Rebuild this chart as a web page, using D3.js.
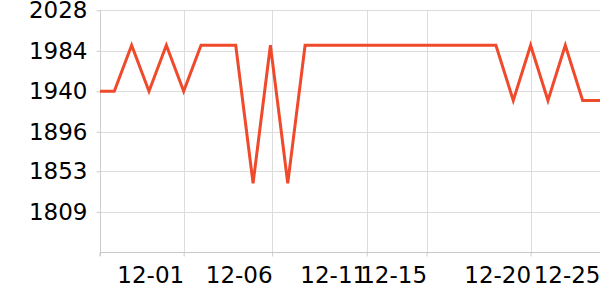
<!DOCTYPE html>
<html>
<head>
<meta charset="utf-8">
<script src="https://cdn.jsdelivr.net/npm/d3@7"></script>
<style>
  body { margin: 0; background: #fff; }
  svg { display: block; font-family: "DejaVu Sans", sans-serif; }
</style>
</head>
<body>
<svg id="chart" width="600" height="300"></svg>
<script>
// values, one per step; the first step sits just left of the plot and is clipped
var values = [1940, 1940, 1990, 1940, 1990, 1940, 1990, 1990, 1990, 1840,
  1990, 1840, 1990, 1990, 1990, 1990, 1990, 1990, 1990, 1990,
  1990, 1990, 1990, 1990, 1930, 1990, 1930, 1990, 1930, 1930];
var firstStep = -1;

// y tick labels
var yTicks = [1809, 1853, 1896, 1940, 1984, 2028];
var yMin = 1765;

// x tick labels and where they fall, in steps
var xLabels = ["12-01", "12-06", "12-11", "12-15", "12-20", "12-25"];
var xTickSteps = [4, 9.1, 14.55, 18, 24, 28];

var margin = { top: 10, right: 0, bottom: 48, left: 100 },
  width = 600 - margin.left - margin.right,
  height = 300 - margin.top - margin.bottom;

var svg = d3.select("#chart");
var g = svg.append("g")
  .attr("transform", "translate(" + margin.left + "," + margin.top + ")");

var x = d3.scaleLinear().domain([-0.824, 28]).range([0, width]);
var y = d3.scaleLinear().domain([yMin, d3.max(yTicks)]).range([height + 0.3, 0.3]);

// grid
g.append("g")
  .selectAll("line.hgrid")
  .data(yTicks)
  .enter()
  .append("line")
  .attr("x1", 0).attr("x2", width)
  .attr("y1", function (d) { return Math.round(y(d)) + 0.5; })
  .attr("y2", function (d) { return Math.round(y(d)) + 0.5; })
  .attr("stroke", "#dcdcdc");

g.append("g")
  .selectAll("line.vgrid")
  .data(xTickSteps)
  .enter()
  .append("line")
  .attr("x1", function (d) { return Math.round(x(d)) + 0.5; })
  .attr("x2", function (d) { return Math.round(x(d)) + 0.5; })
  .attr("y1", 0).attr("y2", height)
  .attr("stroke", "#dcdcdc");

// y axis
var yAxis = g.append("g")
  .attr("transform", "translate(0.5,0)")
  .call(d3.axisLeft(y).tickValues(yTicks).tickSize(4).tickPadding(9)
    .tickFormat(d3.format("d")));
yAxis.select(".domain").attr("stroke", "#cccccc").attr("d", "M0,0V" + (height + 4));
yAxis.selectAll(".tick line").attr("stroke", "#cccccc");
yAxis.selectAll(".tick text")
  .attr("fill", "#000")
  .style("font-size", "23px")
  .style("font-family", "DejaVu Sans, sans-serif");

// x axis
var xAxis = g.append("g")
  .attr("transform", "translate(0," + (Math.round(height) + 0.5) + ")")
  .call(d3.axisBottom(x).tickValues(xTickSteps).tickSize(4)
    .tickFormat(function (d, i) { return xLabels[i]; }));
xAxis.select(".domain").attr("stroke", "#c8c8c8").attr("d", "M0,4V0H" + width);
xAxis.selectAll(".tick line").attr("stroke", "#cccccc");
xAxis.selectAll(".tick text")
  .attr("fill", "#000")
  .attr("text-anchor", "end")
  .attr("y", 0)
  .attr("dy", "30px")
  .style("font-size", "23px")
  .style("font-family", "DejaVu Sans, sans-serif");

// line
svg.append("defs").append("clipPath").attr("id", "plot-clip")
  .append("rect").attr("x", 0).attr("y", -10).attr("width", width).attr("height", height + 20);

var line = d3.line()
  .x(function (d, i) { return x(firstStep + i); })
  .y(function (d) { return y(d); });

g.append("path")
  .datum(values)
  .attr("clip-path", "url(#plot-clip)")
  .attr("fill", "none")
  .attr("stroke", "#f04a2c")
  .attr("stroke-width", 3)
  .attr("stroke-linejoin", "miter")
  .attr("d", line);
</script>
</body>
</html>
